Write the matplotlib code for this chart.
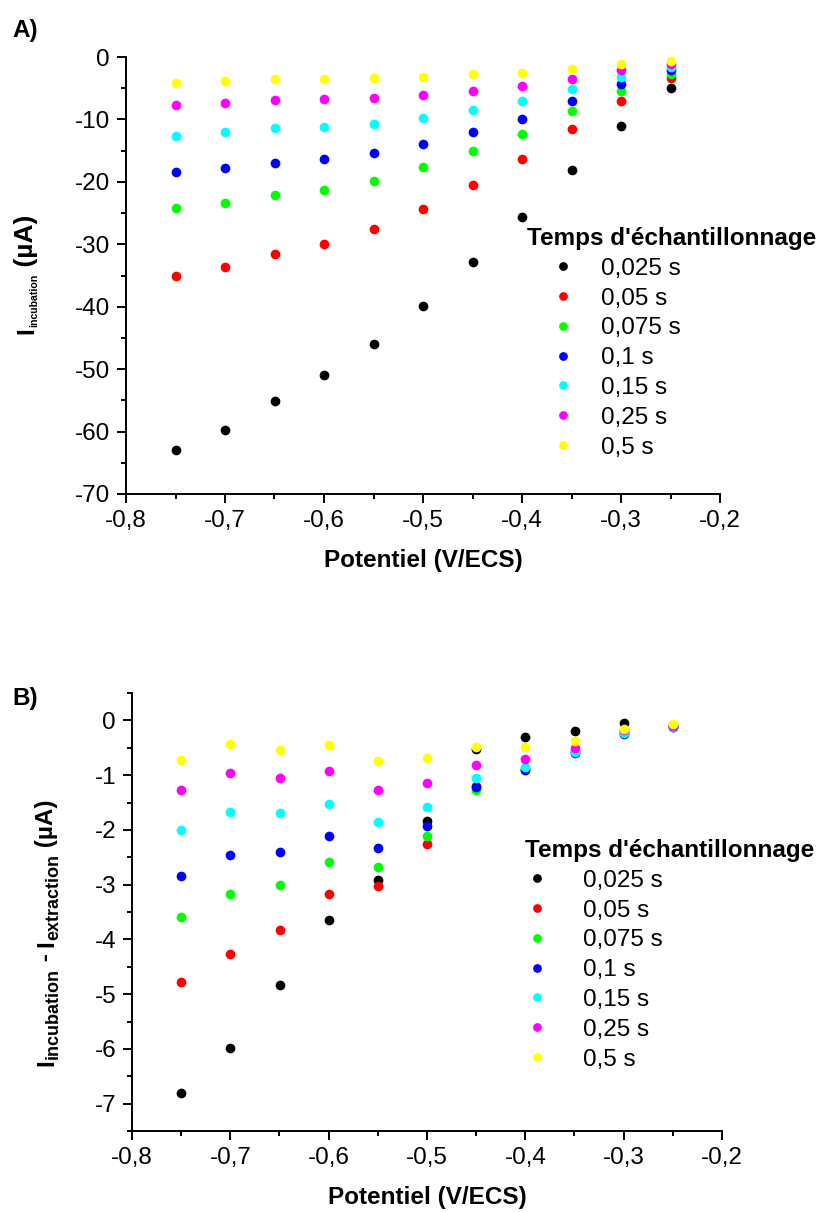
import matplotlib
matplotlib.use("Agg")
import matplotlib.pyplot as plt
from matplotlib.ticker import MultipleLocator, FuncFormatter

plt.rcParams.update({
    "font.family": ["Liberation Sans", "DejaVu Sans"],
    "font.size": 17.5,
    "axes.unicode_minus": False,
    "axes.spines.top": False,
    "axes.spines.right": False,
    "axes.linewidth": 1.4,
    "figure.facecolor": "white",
})

# Potential (V/ECS)
potential = [-0.75, -0.70, -0.65, -0.60, -0.55, -0.50, -0.45, -0.40, -0.35, -0.30, -0.25]

labels = ["0,025 s", "0,05 s", "0,075 s", "0,1 s", "0,15 s", "0,25 s", "0,5 s"]
colors = ["#000000", "#ff0000", "#00ff00", "#0000ff", "#00ffff", "#ff00ff", "#ffff00"]

# A) I incubation (uA)
i_a_0025 = [-62.9, -59.8, -55.1, -51.0, -46.0, -39.9, -32.8, -25.6, -18.1, -11.0, -5.0]
i_a_005 = [-35.0, -33.6, -31.5, -29.9, -27.6, -24.4, -20.5, -16.3, -11.6, -7.0, -3.4]
i_a_0075 = [-24.2, -23.4, -22.1, -21.3, -19.8, -17.7, -15.1, -12.3, -8.7, -5.4, -2.7]
i_a_01 = [-18.5, -17.8, -16.9, -16.4, -15.4, -14.0, -11.95, -9.9, -7.1, -4.3, -2.1]
i_a_015 = [-12.6, -11.95, -11.4, -11.15, -10.7, -9.75, -8.5, -7.1, -5.2, -3.2, -1.6]
i_a_025 = [-7.7, -7.3, -6.9, -6.8, -6.5, -6.1, -5.4, -4.7, -3.5, -2.1, -1.2]
i_a_05 = [-4.1, -3.8, -3.5, -3.5, -3.4, -3.2, -2.8, -2.6, -1.9, -1.2, -0.6]

# B) I incubation - I extraction (uA)
i_b_0025 = [-6.80, -5.99, -4.83, -3.65, -2.92, -1.84, -0.53, -0.30, -0.20, -0.04, -0.09]
i_b_005 = [-4.77, -4.26, -3.82, -3.17, -3.03, -2.26, -1.19, -0.88, -0.56, -0.21, -0.12]
i_b_0075 = [-3.59, -3.17, -3.00, -2.58, -2.68, -2.12, -1.27, -0.90, -0.58, -0.23, -0.12]
i_b_01 = [-2.85, -2.46, -2.41, -2.11, -2.34, -1.93, -1.21, -0.91, -0.59, -0.24, -0.13]
i_b_015 = [-2.01, -1.67, -1.70, -1.52, -1.85, -1.59, -1.06, -0.85, -0.58, -0.23, -0.12]
i_b_025 = [-1.27, -0.96, -1.05, -0.93, -1.27, -1.15, -0.81, -0.70, -0.50, -0.18, -0.10]
i_b_05 = [-0.72, -0.44, -0.54, -0.45, -0.74, -0.69, -0.49, -0.49, -0.38, -0.15, -0.07]

series_a = [i_a_0025, i_a_005, i_a_0075, i_a_01, i_a_015, i_a_025, i_a_05]
series_b = [i_b_0025, i_b_005, i_b_0075, i_b_01, i_b_015, i_b_025, i_b_05]

W, H = 829, 1212


def draw_panel(ax, series, ylim, ymajor, yminor, leg_xy, handlelength, handletextpad):
    for vals, col, lab in zip(series, colors, labels):
        ax.plot(potential, vals, "o", ls="none", color=col, ms=7, mew=0,
                label=lab, clip_on=False, zorder=3)
    ax.set_xlim(-0.8, -0.2)
    ax.set_ylim(*ylim)
    ax.xaxis.set_major_locator(MultipleLocator(0.1))
    ax.xaxis.set_minor_locator(MultipleLocator(0.05))
    ax.yaxis.set_major_locator(MultipleLocator(ymajor))
    ax.yaxis.set_minor_locator(MultipleLocator(yminor))
    ax.xaxis.set_major_formatter(FuncFormatter(lambda v, p: f"{v:.1f}".replace(".", ",")))
    ax.yaxis.set_major_formatter(FuncFormatter(lambda v, p: f"{v:g}"))
    ax.tick_params(which="major", length=6.5, width=1.4, pad=5)
    ax.tick_params(which="minor", length=3.6, width=1.4)
    ax.set_xlabel("Potentiel (V/ECS)", fontweight="bold", labelpad=12)
    leg = ax.legend(loc="upper left", bbox_to_anchor=(leg_xy[0] / W, 1 - leg_xy[1] / H),
                    bbox_transform=ax.figure.transFigure, frameon=False,
                    title="Temps d'échantillonnage", alignment="left",
                    borderpad=0, borderaxespad=0, labelspacing=0.32,
                    handlelength=handlelength, handletextpad=handletextpad,
                    markerscale=0.9)
    leg.get_title().set_fontweight("bold")


def rotated_label(fig, x_px, y_px, parts):
    """Vertical label built from pieces (text, fontsize, baseline shift in px),
    written bottom to top starting at pixel (x_px, y_px) from the top-left."""
    renderer = fig.canvas.get_renderer()
    y = H - y_px
    for txt, size, shift in parts:
        t = fig.text((x_px + shift) / W, y / H, txt, rotation=90, rotation_mode="anchor",
                     ha="left", va="baseline", fontsize=size, fontweight="bold")
        y += t.get_window_extent(renderer).height


fig = plt.figure(figsize=(W / 100, H / 100), dpi=100)

ax_a = fig.add_axes([126 / W, 1 - 494 / H, 594 / W, 437 / H])
draw_panel(ax_a, series_a, (-70, 0), 10, 5, (527, 227), 3.0, 0.05)

ax_b = fig.add_axes([132 / W, 1 - 1131 / H, 590 / W, 438 / H])
draw_panel(ax_b, series_b, (-7.5, 0.5), 1, 0.5, (525, 839), 1.0, 1.4)

rotated_label(fig, 33, 334, [("I", 17.5, 0), ("incubation", 7.6, 4), (" (µA)", 19, 0)])
rotated_label(fig, 53, 1066, [("I", 17.5, 0), ("incubation", 13, 5), (" - ", 17.5, 0),
                              ("I", 17.5, 0), ("extraction", 13, 5), (" (µA)", 17.5, 0)])

fig.text(12 / W, 1 - 30 / H, "A)", fontweight="bold", fontsize=17.5, va="center", ha="left")
fig.text(12 / W, 1 - 698 / H, "B)", fontweight="bold", fontsize=17.5, va="center", ha="left")

fig.savefig("out.png", dpi=100)
plt.close()
